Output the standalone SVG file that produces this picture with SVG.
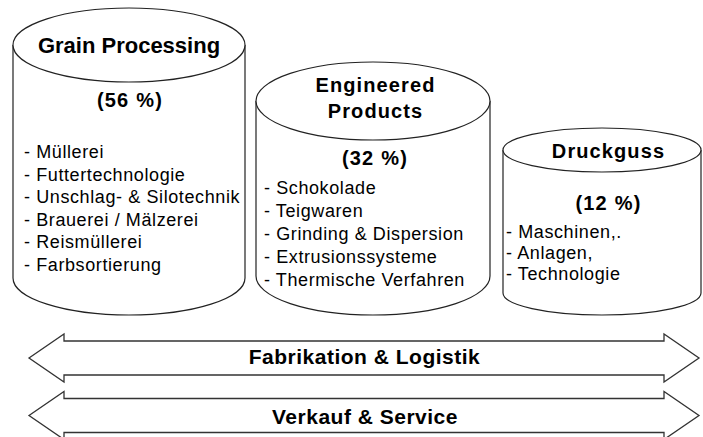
<svg xmlns="http://www.w3.org/2000/svg" width="703" height="437" viewBox="0 0 703 437">
<style>
.cyl{fill:#fff;stroke:#222;stroke-width:1.2}
.arr{fill:#fff;stroke:#333;stroke-width:1.3;stroke-linejoin:miter}
.t{font-family:"Liberation Sans",Arial,sans-serif;font-weight:bold;fill:#000;text-anchor:middle}
.title{font-size:22px}
.pct{font-size:20px;letter-spacing:1.2px}
.head{font-size:20px;letter-spacing:1.1px}
.band{font-size:21px;letter-spacing:0.5px}
.b{font-family:"Liberation Sans",Arial,sans-serif;font-size:18px;letter-spacing:0.6px;fill:#000}
</style>
<rect width="703" height="437" fill="#fff"/>
<g id="grain-processing">
<path class="cyl" d="M13,45 L13,278 A116,37 0 0 0 245,278 L245,45"/>
<ellipse class="cyl" cx="129" cy="45" rx="116" ry="37"/>
<text class="t title" x="129" y="53">Grain Processing</text>
<text class="t pct" x="130" y="106.5">(56 %)</text>
<text class="b" x="24" y="158">- Müllerei</text>
<text class="b" x="24" y="180.5">- Futtertechnologie</text>
<text class="b" x="24" y="203">- Unschlag- &amp; Silotechnik</text>
<text class="b" x="24" y="225.5">- Brauerei / Mälzerei</text>
<text class="b" x="24" y="248">- Reismüllerei</text>
<text class="b" x="24" y="270.5">- Farbsortierung</text>
</g>
<g id="engineered-products">
<path class="cyl" d="M256,101 L256,276 A117,39 0 0 0 490,276 L490,101"/>
<ellipse class="cyl" cx="373" cy="101" rx="117" ry="39"/>
<text class="t head" x="375.5" y="91.7">Engineered</text>
<text class="t head" x="375.5" y="118.3">Products</text>
<text class="t pct" x="375" y="165">(32 %)</text>
<text class="b" x="264" y="194">- Schokolade</text>
<text class="b" x="264" y="217">- Teigwaren</text>
<text class="b" x="264" y="240">- Grinding &amp; Dispersion</text>
<text class="b" x="264" y="263">- Extrusionssysteme</text>
<text class="b" x="264" y="286">- Thermische Verfahren</text>
</g>
<g id="druckguss">
<path class="cyl" d="M503,150 L503,293 A99,22 0 0 0 701,293 L701,150"/>
<ellipse class="cyl" cx="602" cy="150" rx="99" ry="22"/>
<text class="t head" x="608.5" y="158.3">Druckguss</text>
<text class="t pct" x="608.5" y="210">(12 %)</text>
<text class="b" x="506" y="238">- Maschinen,.</text>
<text class="b" x="506" y="259">- Anlagen,</text>
<text class="b" x="506" y="280">- Technologie</text>
</g>
<g id="connectors">
<g id="fabrikation-logistik">
<polygon class="arr" points="29,358 64,334 64,341 664,341 664,334 699,358 664,382 664,375 64,375 64,382"/>
<text class="t band" x="364.5" y="364.3">Fabrikation &amp; Logistik</text>
</g>
<g id="verkauf-service">
<polygon class="arr" points="29,415.5 64,391.5 64,398.5 664,398.5 664,391.5 699,415.5 664,439.5 664,432.5 64,432.5 64,439.5"/>
<text class="t band" x="365" y="424">Verkauf &amp; Service</text>
</g>
</g>
</svg>
